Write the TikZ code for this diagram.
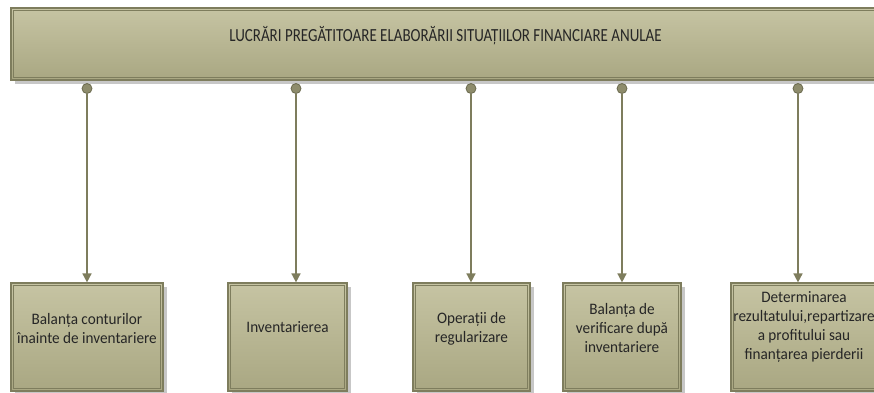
\documentclass[tikz,border=0pt]{standalone}
\usepackage{fontspec}
\setmainfont{Carlito}
\newfontfamily\titlefont[FakeStretch=0.81]{Carlito}
\newfontfamily\boxfont[FakeStretch=0.95]{Carlito}
\usetikzlibrary{arrows.meta,shadows}
\definecolor{khakitop}{HTML}{C6C4A3}
\definecolor{khakibot}{HTML}{A9A782}
\definecolor{olive}{HTML}{7E7D5D}
\definecolor{dotfill}{HTML}{8E8C6C}

\begin{document}
\begin{tikzpicture}[x=1pt,y=-1pt,>={Triangle[width=9pt,length=9pt]},
                    main box/.style={rectangle,draw=olive,line width=1.2pt,top color=khakitop,
                      bottom color=khakibot,inner sep=0pt,
                      general shadow={fill=black!22,shadow xshift=3.5pt,shadow yshift=-4pt}},
                    box text/.style={font=\boxfont\fontsize{16}{19}\selectfont,text=black!85,align=center},
                    dot/.style={circle,draw=olive!85!black,fill=dotfill,line width=0.8pt,
                      minimum width=9pt,minimum height=10pt,inner sep=0pt},
                    link/.style={->,draw=olive,line width=1.6pt}]
  \useasboundingbox (0,0) rectangle (874,392);

  \node[main box,minimum width=869pt,minimum height=72pt,
        label={[font=\titlefont\fontsize{18.5}{20}\selectfont,text=black!85,yshift=8pt]center:LUCRĂRI PREGĂTITOARE ELABORĂRII SITUAȚIILOR FINANCIARE ANULAE}]
        (top) at (445.5,44) {};

  \node[main box,minimum width=152pt,minimum height=108pt,
        label={[box text,yshift=9pt]center:Balanța conturilor\\înainte de inventariere}] (1) at (87,337) {};
  \node[main box,minimum width=119pt,minimum height=108pt,
        label={[box text,yshift=10pt]center:Inventarierea}] (2) at (287.5,337) {};
  \node[main box,minimum width=117pt,minimum height=108pt,
        label={[box text,yshift=8pt]center:Operații de\\regularizare}] (3) at (471.5,337) {};
  \node[main box,minimum width=118pt,minimum height=108pt,
        label={[box text,yshift=9pt]center:Balanța de\\verificare după\\inventariere}] (4) at (622,337) {};
  \node[main box,minimum width=146pt,minimum height=108pt,
        label={[box text,yshift=10pt]center:Determinarea\\rezultatului,repartizare\\a profitului sau\\finanțarea pierderii}] (5) at (804,337) {};

  % inner frames
  \foreach \n in {top,1,2,3,4,5}
    \draw[olive,line width=0.8pt] ([shift={(3pt,-3pt)}]\n.north west) rectangle ([shift={(-3pt,3pt)}]\n.south east);

  \node[dot] (d1) at (87,88.5) {};
  \node[dot] (d2) at (296,88.5) {};
  \node[dot] (d3) at (471,88.5) {};
  \node[dot] (d4) at (622,88.5) {};
  \node[dot] (d5) at (798,88.5) {};

  \foreach \i in {1,...,5}
    \draw[link] (d\i) -- (d\i |- \i.north);
\end{tikzpicture}
\end{document}
